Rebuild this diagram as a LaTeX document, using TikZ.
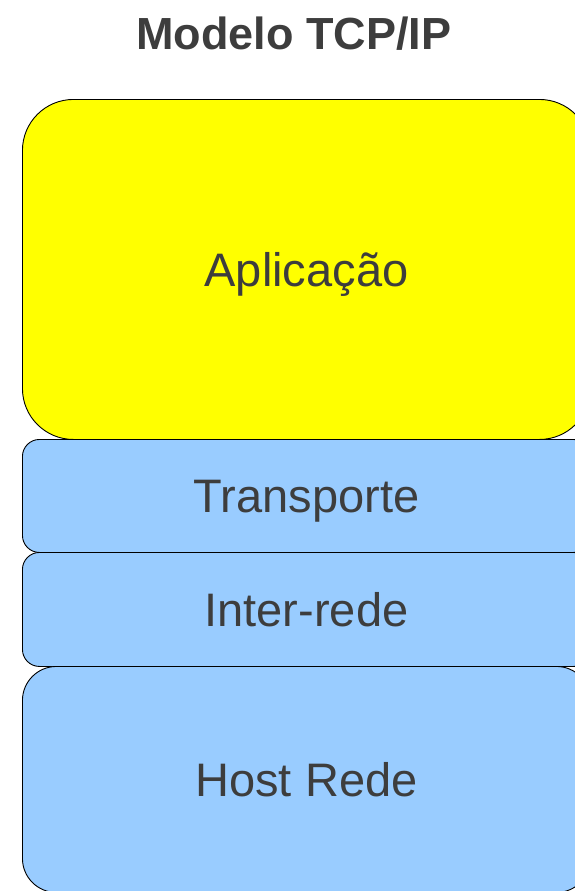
\documentclass[tikz,border=0pt]{standalone}
\usepackage{fontspec}
\setsansfont{Liberation Sans}
\definecolor{txtgray}{HTML}{3D3D3D}
\definecolor{appyellow}{HTML}{FFFF00}
\definecolor{layerblue}{HTML}{99CCFF}
\begin{document}
\begin{tikzpicture}[x=1pt,y=-1pt,font=\sffamily\fontsize{47}{56}\selectfont,
  layer/.style={draw=black,line width=0.9pt,anchor=north west,inner sep=0pt,
    minimum width=568pt,text height=34pt,text depth=0pt,text=txtgray}]
  \useasboundingbox (0,0) rectangle (575,891);
  % Title.
  \node[anchor=base,text=txtgray,font=\sffamily\bfseries\fontsize{45}{54}\selectfont] (titulo) at (294,49) {Modelo TCP/IP};
  % Layers, top to bottom.
  \node[layer,fill=appyellow,rounded corners=51pt,minimum height=340pt] (aplicacao) at (22,99) {Aplicação};
  \node[layer,fill=layerblue,rounded corners=17pt,minimum height=113pt] (transporte) at (22,439) {Transporte};
  \node[layer,fill=layerblue,rounded corners=17pt,minimum height=114pt] (inter) at (22,552) {Inter-rede};
  \node[layer,fill=layerblue,rounded corners=34pt,minimum height=226pt] (host) at (22,666) {Host Rede};
\end{tikzpicture}
\end{document}
